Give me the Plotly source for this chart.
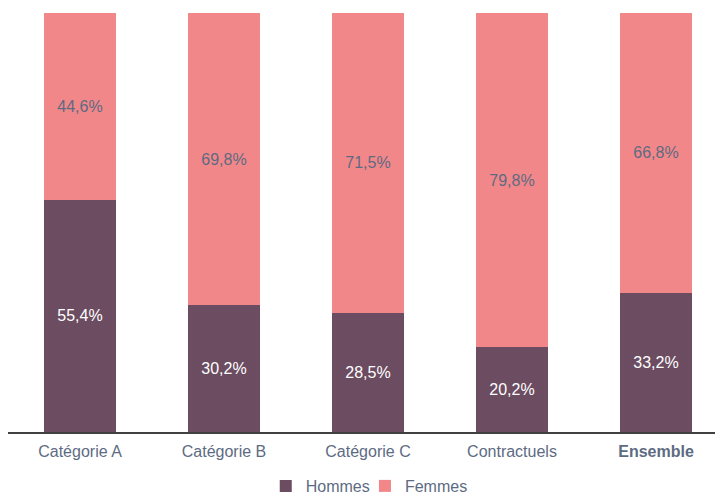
import plotly.graph_objects as go

categories = ["Catégorie A", "Catégorie B", "Catégorie C", "Contractuels", "Ensemble"]
tick_labels = ["Catégorie A", "Catégorie B", "Catégorie C", "Contractuels", "<b>Ensemble</b>"]
hommes = [55.4, 30.2, 28.5, 20.2, 33.2]
femmes = [44.6, 69.8, 71.5, 79.8, 66.8]

def fmt(v):
    return f"{v:.1f}%".replace(".", ",")

font_family = "Liberation Sans, Arial, sans-serif"
grey = "#5d6b82"

fig = go.Figure()
fig.add_trace(go.Bar(
    name="Hommes", x=categories, y=hommes, width=0.5,
    marker=dict(color="#6b4c60", line=dict(width=0)),
    text=[fmt(v) for v in hommes], textposition="inside", insidetextanchor="middle",
    textfont=dict(color="white", size=16, family=font_family),
    textangle=0, legend="legend",
))
fig.add_trace(go.Bar(
    name="Femmes", x=categories, y=femmes, width=0.5,
    marker=dict(color="#f28789", line=dict(width=0)),
    text=[fmt(v) for v in femmes], textposition="inside", insidetextanchor="middle",
    textfont=dict(color=grey, size=16, family=font_family),
    textangle=0, legend="legend2",
))

leg_common = dict(orientation="h", y=-0.128, yanchor="middle", xanchor="left",
                  font=dict(size=16, color=grey), itemwidth=30, bgcolor="rgba(0,0,0,0)")

fig.update_layout(
    barmode="stack",
    width=723, height=495,
    margin=dict(l=0, r=0, t=5, b=70),
    paper_bgcolor="white", plot_bgcolor="white",
    font=dict(family=font_family, size=16, color=grey),
    showlegend=True,
    legend=dict(x=0.3565, **leg_common),
    legend2=dict(x=0.4937, **leg_common),
    xaxis=dict(
        range=[-0.5, 4.5208], tickmode="array", tickvals=categories, ticktext=tick_labels,
        showline=True, linecolor="#404040", linewidth=1.5, ticks="", showgrid=False,
        tickfont=dict(size=16, color=grey), ticklabelstandoff=4,
    ),
    yaxis=dict(range=[0, 100], visible=False, showgrid=False),
)

fig.write_html("out.html")
